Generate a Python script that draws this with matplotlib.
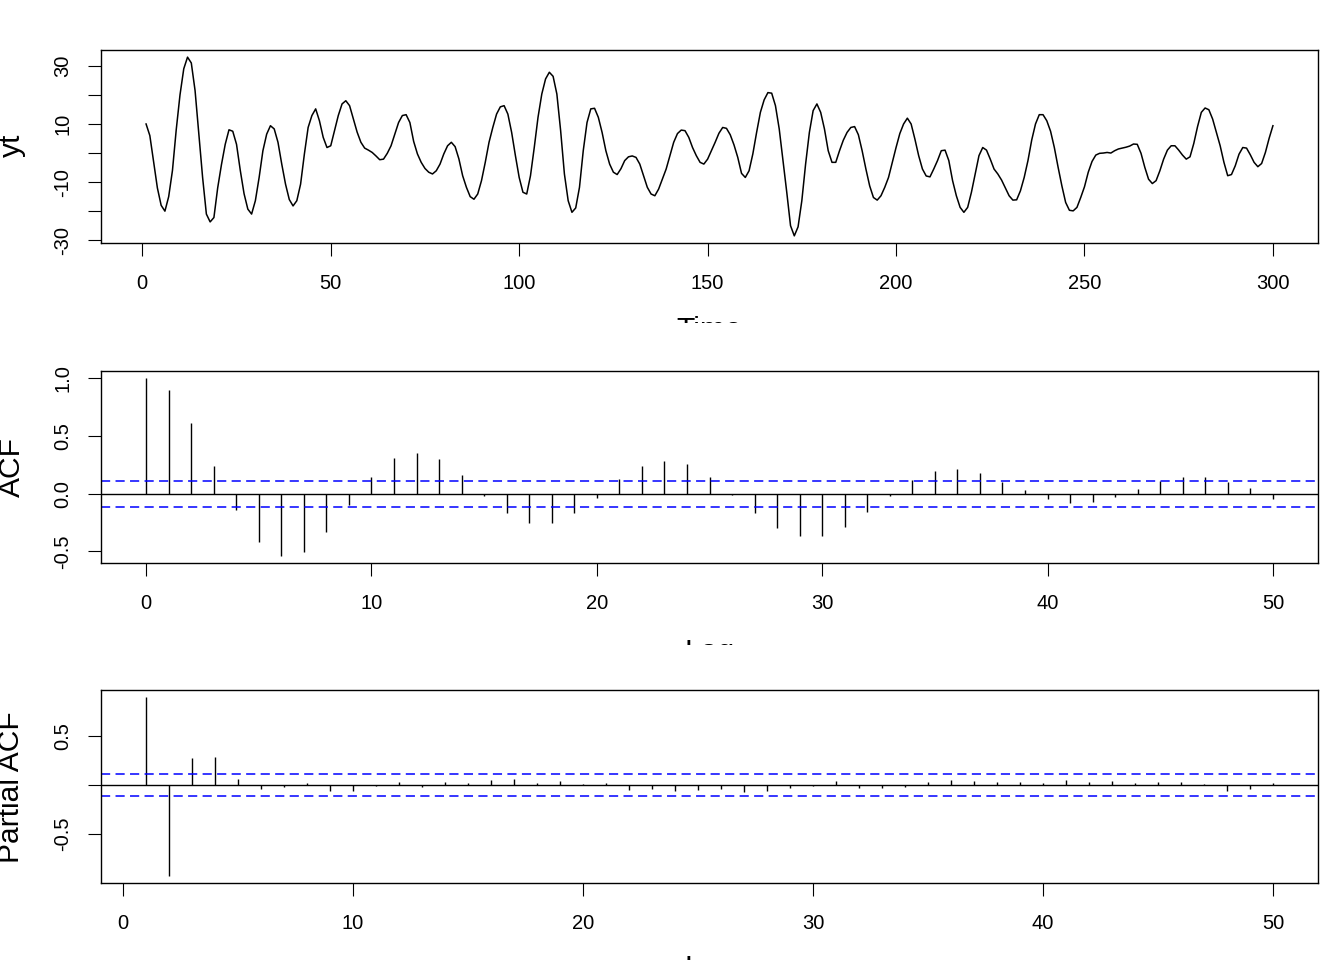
import matplotlib
matplotlib.use("Agg")
import matplotlib.pyplot as plt
import numpy as np
from matplotlib.transforms import Bbox, TransformedBbox

plt.rcParams['font.family'] = ['Liberation Sans', 'DejaVu Sans']

# series yt, t = 1..300
yt = [10, 6, -3, -12, -18, -20, -15, -6, 8, 20,
      29, 33, 31, 21.5, 6.5, -8.4, -21, -23.7, -22.2, -12,
      -4, 3, 8, 7.5, 3, -6, -14, -19.3, -21, -16.4,
      -8.4, 0.8, 6.5, 9.4, 8.3, 3.7, -3.8, -10.7, -16, -18.2,
      -16.4, -10.7, -0.4, 8.8, 12.9, 15.2, 11.1, 5.4, 1.9, 2.5,
      7.7, 12.9, 16.9, 18, 16.3, 11.7, 7.2, 3.7, 1.7, 1,
      0.2, -1, -2.3, -2.1, -0.1, 2.5, 6.5, 10.5, 12.9, 13.2,
      10.5, 4, -0.3, -3.2, -5.3, -6.6, -7.2, -6.1, -3.8, -0.3,
      2.5, 3.7, 2.2, -2.0, -7.8, -11.8, -15, -15.9, -14.1, -9.5,
      -3.2, 3.7, 8.8, 13.4, 15.9, 16.3, 13.4, 7.1, -0.9, -8.4,
      -13.5, -14.1, -7.8, 1.9, 12.3, 20.3, 25.5, 27.8, 26.4, 20.3,
      7.7, -7.2, -16.4, -20.4, -18.9, -11.8, 0.8, 10.5, 15.2, 15.4,
      12.3, 7.1, 0.8, -3.8, -6.6, -7.4, -5.4, -2.6, -1.3, -1.0,
      -1.5, -3.8, -7.8, -11.8, -14.1, -14.7, -12.4, -9, -5.5, -0.9,
      3.7, 6.7, 7.9, 7.7, 5.4, 1.9, -0.9, -3.2, -3.8, -2.1,
      0.8, 3.7, 6.8, 8.8, 8.5, 6.3, 2.8, -1.5, -7, -8.4,
      -6.1, -0.3, 7.1, 14, 18.3, 20.8, 20.6, 16.3, 8.3, -2.6,
      -13.5, -25, -28.5, -25.4, -16.4, -3.8, 7.1, 14.6, 16.9, 14.0,
      8.3, 0.8, -3.2, -3.2, 0.8, 4.4, 7.1, 8.8, 9.1, 6.3,
      0.8, -5.5, -11.3, -15.3, -16.2, -14.7, -11.8, -8.4, -3.2, 1.9,
      6.7, 10, 12, 10, 4.8, -0.9, -5.5, -7.9, -8.2, -5.5,
      -2.6, 0.8, 1.0, -2.6, -9.5, -14.7, -18.7, -20.4, -18.7, -13.5,
      -7.2, -0.9, 1.9, 1.0, -2.1, -5.5, -7.2, -9.3, -12, -14.7,
      -16.2, -16.1, -13, -8.4, -2.6, 4.5, 10, 13.2, 13.2, 11.1,
      7.5, 1.9, -4.9, -11.3, -17, -19.7, -19.9, -18.7, -15.3, -11.6,
      -6.6, -2.9, -0.7, -0.1, 0, 0.2, 0, 0.8, 1.4, 1.7,
      2.0, 2.4, 3.1, 3.0, -0.1, -4.9, -9, -10.5, -9.5, -6.1,
      -2.1, 1.0, 2.5, 2.5, 1.0, -0.7, -2.1, -1.3, 3.3, 9.1,
      14, 15.5, 14.9, 11.7, 7.1, 2.5, -3.2, -7.8, -7.4, -4.4,
      -0.4, 1.9, 1.7, -0.6, -3.2, -4.7, -3.6, 0.2, 5.1, 9.4]

# sample ACF, lags 0..50
acf = [1.0, 0.897, 0.615, 0.242, -0.14, -0.419, -0.538, -0.504, -0.333, -0.097,
       0.145, 0.305, 0.356, 0.299, 0.162, -0.02, -0.171, -0.256, -0.256, -0.171,
       -0.034, 0.123, 0.242, 0.285, 0.256, 0.148, -0.014, -0.171, -0.299, -0.368,
       -0.362, -0.285, -0.157, -0.02, 0.117, 0.194, 0.214, 0.179, 0.103, 0.028,
       -0.048, -0.083, -0.071, -0.028, 0.043, 0.108, 0.142, 0.145, 0.103, 0.051,
       -0.043]

# partial ACF, lags 1..50
pacf = [0.898, -0.932, 0.271, 0.285, 0.064, -0.044, -0.027, 0.014, -0.068, -0.061,
        -0.01, 0.027, -0.024, 0.034, 0.014, 0.047, 0.058, 0.02, 0.044, 0.007,
        0.017, -0.054, -0.047, -0.061, -0.054, -0.047, -0.078, -0.061, -0.03, -0.014,
        0.041, -0.034, -0.037, -0.024, 0.031, 0.054, 0.044, 0.034, 0.027, 0.02,
        0.047, 0.034, 0.041, 0.017, 0.027, 0.031, 0.007, -0.068, -0.047, 0.014]

ci = 0.113  # blue dashed bounds

W, H = 1344, 960
fig = plt.figure(figsize=(W / 100, H / 100), dpi=100)


def add_panel(top, bottom):
    return fig.add_axes([101 / W, 1 - bottom / H, 1217 / W, (bottom - top) / H])


def rlim(lo, hi):
    pad = (hi - lo) * 0.04
    return lo - pad, hi + pad


def style(ax):
    for s in ax.spines.values():
        s.set_linewidth(1.0)
    ax.tick_params(length=9.5, width=0.8, labelsize=14.5)
    ax.tick_params(axis='x', pad=12.5)
    ax.tick_params(axis='y', pad=11)


def ylab(text, yc):
    fig.text(19.5 / W, 1 - yc / H, text, rotation=90, rotation_mode='anchor',
             ha='center', va='baseline', fontsize=21.6)


# x labels sit mostly outside their panel region, only their top shows
def xlab(text, base, row_top, row_bottom):
    t = fig.text(709.5 / W, 1 - base / H, text, ha='center', va='baseline', fontsize=21.6)
    box = Bbox.from_extents(0, 1 - row_bottom / H, 1, 1 - row_top / H)
    t.set_clip_box(TransformedBbox(box, fig.transFigure))
    t.set_clip_on(True)


# --- time series
ax1 = add_panel(50, 243)
t = np.arange(1, len(yt) + 1)
ax1.plot(t, yt, color='black', lw=1.1)
ax1.set_xlim(rlim(1, len(yt)))
ax1.set_ylim(rlim(min(yt), max(yt)))
ax1.set_xticks(range(0, 301, 50))
ax1.set_yticks(range(-30, 31, 10))
ax1.set_yticklabels(['-30', '', '-10', '', '10', '', '30'], rotation=90, va='center')
style(ax1)
ylab('yt', 145)
xlab('Time', 338.5, 0, 323)

# --- ACF
ax2 = add_panel(371, 563)
lags = np.arange(len(acf))
ax2.vlines(lags, 0, acf, color='black', lw=1.0)
ax2.axhline(0, color='black', lw=1.0)
for c in (ci, -ci):
    ax2.axhline(c, color='#0000FF', lw=1.1, dashes=(6, 3.5))
ax2.set_xlim(rlim(0, len(acf) - 1))
ax2.set_ylim(rlim(min(acf), max(acf)))
ax2.set_xticks(range(0, 51, 10))
ax2.set_yticks([-0.5, 0.0, 0.5, 1.0])
ax2.set_yticklabels(['-0.5', '0.0', '0.5', '1.0'], rotation=90, va='center')
style(ax2)
ylab('ACF', 467)
xlab('Lag', 660.5, 323, 645)

# --- PACF
ax3 = add_panel(690, 883)
plags = np.arange(1, len(pacf) + 1)
ax3.vlines(plags, 0, pacf, color='black', lw=1.0)
ax3.axhline(0, color='black', lw=1.0)
for c in (ci, -ci):
    ax3.axhline(c, color='#0000FF', lw=1.1, dashes=(6, 3.5))
ax3.set_xlim(rlim(1, len(pacf)))
ax3.set_ylim(rlim(min(pacf), max(pacf)))
ax3.set_xticks(range(0, 51, 10))
ax3.set_yticks([-0.5, 0.0, 0.5])
ax3.set_yticklabels(['-0.5', '', '0.5'], rotation=90, va='center')
style(ax3)
ylab('Partial ACF', 787)
xlab('Lag', 976.5, 645, 960)

fig.savefig('out.png', dpi=100)
